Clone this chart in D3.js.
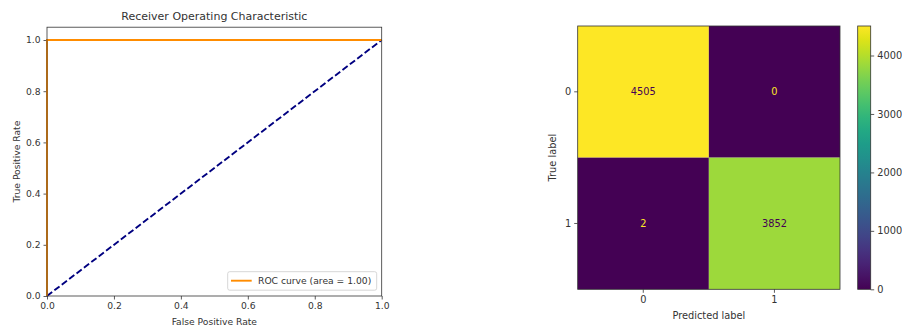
<!DOCTYPE html>
<html>
<head>
<meta charset="utf-8">
<script src="https://cdn.jsdelivr.net/npm/d3@7"></script>
<style>
  html, body { margin: 0; padding: 0; background: #fff; }
  svg { display: block; font-family: "DejaVu Sans", sans-serif; }
</style>
</head>
<body>
<svg id="chart" width="902" height="329"></svg>
<script>
// ---------- data ----------
const rocFpr = [0, 0, 1];
const rocTpr = [0, 1, 1];
const chanceFpr = [0, 1];
const chanceTpr = [0, 1];
const rocLabel = "ROC curve (area = 1.00)";
const rocTicks = [0, 0.2, 0.4, 0.6, 0.8, 1.0];

const trueLabels = ["0", "1"];
const predLabels = ["0", "1"];
const cmValues = [
  [4505, 0],
  [2, 3852]
];
const cbarTicks = [0, 1000, 2000, 3000, 4000];

// ---------- setup ----------
const svg = d3.select("#chart");
svg.append("rect").attr("width", 902).attr("height", 329).attr("fill", "#fff");
const axisColor = "#333";
const textColor = "#333";

function styleAxis(g, fs) {
  g.selectAll(".domain").remove();
  g.selectAll(".tick line").attr("stroke", axisColor).attr("stroke-width", 0.8);
  g.selectAll(".tick text").attr("fill", textColor).attr("font-size", fs)
    .attr("font-family", "DejaVu Sans, sans-serif");
}

// ---------- ROC panel ----------
const L = { x0: 47, x1: 381.7, y0: 296, y1: 27.2 };
const x = d3.scaleLinear().domain([0, 1]).range([L.x0, L.x1]);
const y = d3.scaleLinear().domain([0, 1.05]).range([L.y0, L.y1]);
const fsL = 9.2;

const gxa = svg.append("g").attr("transform", `translate(0,${L.y0})`)
  .call(d3.axisBottom(x).tickValues(rocTicks).tickFormat(d3.format(".1f")).tickSize(3.5).tickPadding(3));
styleAxis(gxa, fsL);
const gya = svg.append("g").attr("transform", `translate(${L.x0},0)`)
  .call(d3.axisLeft(y).tickValues(rocTicks).tickFormat(d3.format(".1f")).tickSize(3.5).tickPadding(3));
styleAxis(gya, fsL);

const line = d3.line().x(d => x(d[0])).y(d => y(d[1]));
svg.append("clipPath").attr("id", "clipL").append("rect")
  .attr("x", L.x0).attr("y", L.y1).attr("width", L.x1 - L.x0).attr("height", L.y0 - L.y1);

svg.append("path").datum(chanceFpr.map((d, i) => [d, chanceTpr[i]]))
  .attr("d", line).attr("fill", "none").attr("stroke", "navy")
  .attr("stroke-width", 1.9).attr("stroke-dasharray", "6.5,2.8");
svg.append("path").datum(rocFpr.map((d, i) => [d, rocTpr[i]]))
  .attr("d", line).attr("fill", "none").attr("stroke", "darkorange")
  .attr("stroke-width", 1.9);

svg.append("rect").attr("x", L.x0).attr("y", L.y1)
  .attr("width", L.x1 - L.x0).attr("height", L.y0 - L.y1)
  .attr("fill", "none").attr("stroke", axisColor).attr("stroke-width", 0.8);

svg.append("text").attr("x", (L.x0 + L.x1) / 2).attr("y", 20)
  .attr("text-anchor", "middle").attr("font-size", 11).attr("fill", textColor)
  .text("Receiver Operating Characteristic");
svg.append("text").attr("x", (L.x0 + L.x1) / 2).attr("y", 325)
  .attr("text-anchor", "middle").attr("font-size", fsL).attr("fill", textColor)
  .text("False Positive Rate");
svg.append("text").attr("transform", `translate(20,${(L.y0 + L.y1) / 2}) rotate(-90)`)
  .attr("text-anchor", "middle").attr("font-size", fsL).attr("fill", textColor)
  .text("True Positive Rate");

// legend
const lg = svg.append("g");
lg.append("rect").attr("x", 227.7).attr("y", 271.7).attr("width", 149).attr("height", 18.5)
  .attr("rx", 2).attr("fill", "#fff").attr("stroke", "#ccc").attr("stroke-width", 0.8);
lg.append("line").attr("x1", 231).attr("x2", 251.7).attr("y1", 280.7).attr("y2", 280.7)
  .attr("stroke", "darkorange").attr("stroke-width", 1.9);
lg.append("text").attr("x", 258).attr("y", 284).attr("font-size", fsL).attr("fill", textColor)
  .text(rocLabel);

// ---------- Confusion matrix panel ----------
const R = { x0: 577.7, x1: 840, y0: 26, y1: 289.3 };
const fsR = 9.8;
const cx = d3.scaleBand().domain(predLabels).range([R.x0, R.x1]);
const cy = d3.scaleBand().domain(trueLabels).range([R.y0, R.y1]);
const maxV = d3.max(cmValues.flat());
const color = d3.scaleSequential(d3.interpolateViridis).domain([0, maxV]);
const thresh = (maxV + d3.min(cmValues.flat())) / 2;

const cells = [];
trueLabels.forEach((t, i) => predLabels.forEach((p, j) => cells.push({ t, p, v: cmValues[i][j] })));

svg.append("g").selectAll("rect").data(cells).join("rect")
  .attr("x", d => cx(d.p)).attr("y", d => cy(d.t))
  .attr("width", cx.bandwidth()).attr("height", cy.bandwidth())
  .attr("fill", d => color(d.v));

svg.append("g").selectAll("text").data(cells).join("text")
  .attr("x", d => cx(d.p) + cx.bandwidth() / 2)
  .attr("y", d => cy(d.t) + cy.bandwidth() / 2)
  .attr("dy", "0.35em").attr("text-anchor", "middle").attr("font-size", fsR)
  .attr("fill", d => d.v < thresh ? color(maxV) : color(0))
  .text(d => d.v);

svg.append("rect").attr("x", R.x0).attr("y", R.y0)
  .attr("width", R.x1 - R.x0).attr("height", R.y1 - R.y0)
  .attr("fill", "none").attr("stroke", axisColor).attr("stroke-width", 0.8);

const gcx = svg.append("g").attr("transform", `translate(0,${R.y1})`)
  .call(d3.axisBottom(cx).tickSize(3.5).tickPadding(3));
styleAxis(gcx, fsR);
const gcy = svg.append("g").attr("transform", `translate(${R.x0},0)`)
  .call(d3.axisLeft(cy).tickSize(3.5).tickPadding(3));
styleAxis(gcy, fsR);

svg.append("text").attr("x", (R.x0 + R.x1) / 2).attr("y", 318.5)
  .attr("text-anchor", "middle").attr("font-size", fsR).attr("fill", textColor)
  .text("Predicted label");
svg.append("text").attr("transform", `translate(556,${(R.y0 + R.y1) / 2}) rotate(-90)`)
  .attr("text-anchor", "middle").attr("font-size", fsR).attr("fill", textColor)
  .text("True label");

// colorbar
const CB = { x0: 857.7, x1: 870.7 };
const cbY = d3.scaleLinear().domain([0, maxV]).range([R.y1, R.y0]);
const grad = svg.append("defs").append("linearGradient").attr("id", "cbgrad")
  .attr("x1", 0).attr("y1", 1).attr("x2", 0).attr("y2", 0);
d3.range(0, 1.0001, 0.05).forEach(t => {
  grad.append("stop").attr("offset", t).attr("stop-color", color(t * maxV));
});
svg.append("rect").attr("x", CB.x0).attr("y", R.y0)
  .attr("width", CB.x1 - CB.x0).attr("height", R.y1 - R.y0)
  .attr("fill", "url(#cbgrad)").attr("stroke", axisColor).attr("stroke-width", 0.8);
const gcb = svg.append("g").attr("transform", `translate(${CB.x1},0)`)
  .call(d3.axisRight(cbY).tickValues(cbarTicks).tickFormat(d3.format("d")).tickSize(3.5).tickPadding(3));
styleAxis(gcb, fsR);
</script>
</body>
</html>
